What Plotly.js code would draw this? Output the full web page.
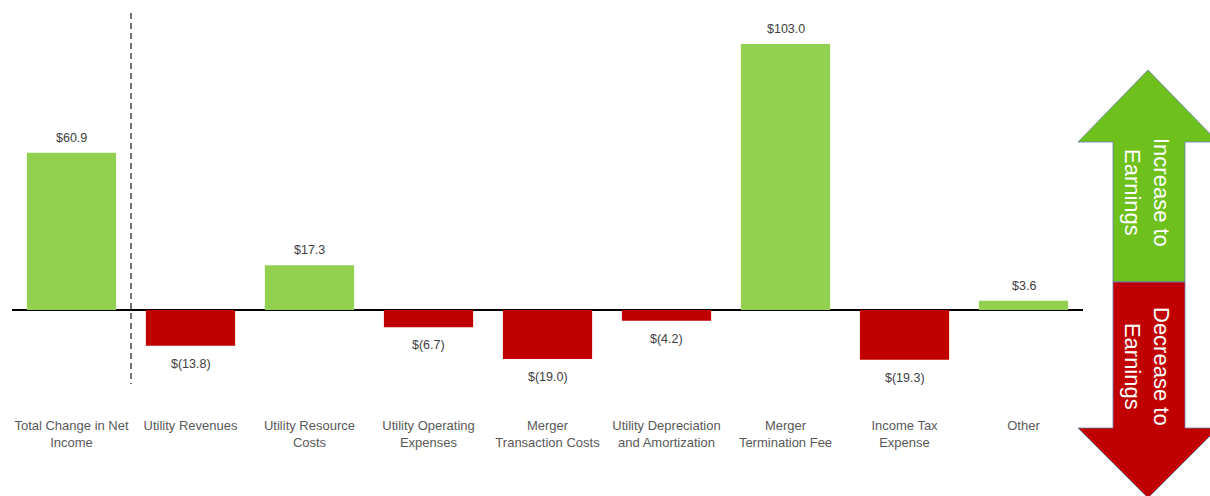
<!DOCTYPE html>
<html>
<head>
<meta charset="utf-8">
<script src="https://cdn.plot.ly/plotly-3.0.1.min.js"></script>
<style>html,body{margin:0;padding:0;background:#fff;}#chart{width:1210px;height:496px;}</style>
</head>
<body>
<div id="chart"></div>
<script>
var categories = ["Total Change in Net Income", "Utility Revenues", "Utility Resource Costs", "Utility Operating Expenses", "Merger Transaction Costs", "Utility Depreciation and Amortization", "Merger Termination Fee", "Income Tax Expense", "Other"];
var tickLabels = ["Total Change in Net<br>Income", "Utility Revenues", "Utility Resource<br>Costs", "Utility Operating<br>Expenses", "Merger<br>Transaction Costs", "Utility Depreciation<br>and Amortization", "Merger<br>Termination Fee", "Income Tax<br>Expense", "Other"];
var values = [60.9, -13.8, 17.3, -6.7, -19.0, -4.2, 103.0, -19.3, 3.6];
var arrowTexts = ["Increase to<br>Earnings", "Decrease to<br>Earnings"];

var GREEN = "#92D050", RED = "#C00000";
var W = 1210, H = 496;
var M = {l: 12, r: 127, t: 12, b: 111};
var pw = W - M.l - M.r, ph = H - M.t - M.b;
function px(x) { return (x - M.l) / pw; }
function py(y) { return (H - M.b - y) / ph; }
function pathFrom(pts) {
  return "M" + pts.map(function (p) { return px(p[0]).toFixed(5) + "," + py(p[1]).toFixed(5); }).join(" L") + " Z";
}
function fmt(v) { return v < 0 ? "$(" + Math.abs(v).toFixed(1) + ")" : "$" + v.toFixed(1); }

var trace = {
  type: "bar",
  x: categories,
  y: values,
  marker: {color: values.map(function (v) { return v >= 0 ? GREEN : RED; })},
  hoverinfo: "x+y"
};

var annotations = values.map(function (v, i) {
  return {
    x: categories[i], y: v, xref: "x", yref: "y",
    text: fmt(v), showarrow: false,
    yanchor: v >= 0 ? "bottom" : "top",
    yshift: v >= 0 ? 6 : -9,
    font: {family: "Liberation Sans, Arial, sans-serif", size: 12.5, color: "#404040"}
  };
});

var cx = 1148;
var greenArrow = [[cx, 70], [cx + 70, 142], [1185, 142], [1185, 282], [1113, 282], [1113, 142], [cx - 70, 142]];
var redArrow = [[1113, 282], [1185, 282], [1185, 428], [cx + 70, 428], [cx, 498], [cx - 70, 428], [1113, 428]];

var arrowFont = {family: "Liberation Sans, Arial, sans-serif", size: 22, color: "#ffffff"};
annotations.push({
  xref: "paper", yref: "paper", x: px(1147), y: py(192), text: arrowTexts[0], showarrow: false,
  textangle: 90, font: arrowFont, xanchor: "center", yanchor: "middle"
});
annotations.push({
  xref: "paper", yref: "paper", x: px(1147), y: py(366), text: arrowTexts[1], showarrow: false,
  textangle: 90, font: arrowFont, xanchor: "center", yanchor: "middle"
});

var layout = {
  width: W, height: H,
  margin: M,
  paper_bgcolor: "#ffffff", plot_bgcolor: "#ffffff",
  showlegend: false,
  bargap: 0.25,
  xaxis: {
    type: "category",
    range: [-0.5, 8.5],
    tickvals: categories, ticktext: tickLabels,
    showgrid: false, showline: false, zeroline: false, ticks: "",
    ticklabelstandoff: 31,
    tickfont: {family: "Liberation Sans, Arial, sans-serif", size: 13, color: "#595959"}
  },
  yaxis: {
    range: [-(H - M.b - 310) / 2.583, (310 - M.t) / 2.583],
    showgrid: false, showticklabels: false, showline: false, ticks: "",
    zeroline: true, zerolinecolor: "#000000", zerolinewidth: 1.5
  },
  shapes: [
    {type: "line", xref: "x", yref: "paper", x0: 0.5, x1: 0.5, y0: py(13), y1: py(384),
     line: {color: "#000000", width: 1.1, dash: "6px,4px"}},
    {type: "path", xref: "paper", yref: "paper", path: pathFrom(greenArrow),
     fillcolor: "#6EC11C", line: {color: "#6a7fb8", width: 0.8}, layer: "above"},
    {type: "path", xref: "paper", yref: "paper", path: pathFrom(redArrow),
     fillcolor: "#C00000", line: {color: "#6a7fb8", width: 0.8}, layer: "above"}
  ],
  annotations: annotations
};

Plotly.newPlot("chart", [trace], layout, {displayModeBar: false, staticPlot: true});
</script>
</body>
</html>
